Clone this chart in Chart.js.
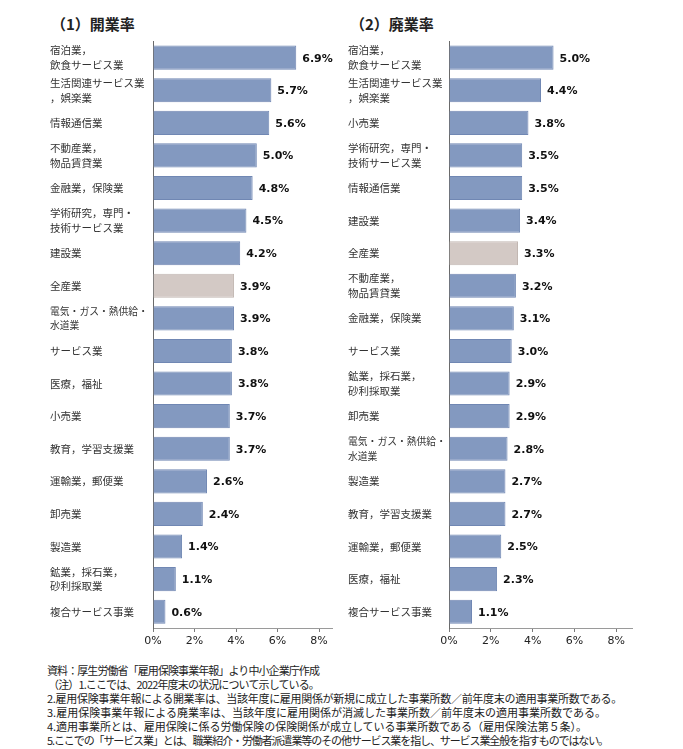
<!DOCTYPE html>
<html lang="ja">
<head>
<meta charset="utf-8">
<script src="https://cdn.jsdelivr.net/npm/chart.js@4.4.1/dist/chart.umd.min.js"></script>
<style>
  html, body { margin: 0; padding: 0; background: #fff; width: 683px; height: 749px; overflow: hidden; }
  body { position: relative; font-family: "Noto Sans CJK JP", sans-serif; color: #222; }
  .title { position: absolute; top: 14px; font-size: 15px; font-weight: bold; line-height: 20px; color: #222; }
  .box { position: absolute; top: 30px; height: 622px; }
  .notes { position: absolute; left: 47px; top: 663px; font-size: 11px; line-height: 14px; color: #222; white-space: nowrap; }
  .notes span { display: inline-block; }
</style>
</head>
<body>
<div class="title" style="left:51px;">（1）開業率</div>
<div class="title" style="left:350px;">（2）廃業率</div>
<div class="box" style="left:50px; width:283px;"><canvas id="c1"></canvas></div>
<div class="box" style="left:348px; width:285px;"><canvas id="c2"></canvas></div>
<div class="notes" id="notes">
<span data-w="272">資料：厚生労働省「雇用保険事業年報」より中小企業庁作成</span><br>
<span data-w="271" style="margin-left:1px">（注）1.ここでは、2022年度末の状況について示している。</span><br>
<span data-w="575">2.雇用保険事業年報による開業率は、当該年度に雇用関係が新規に成立した事業所数／前年度末の適用事業所数である。</span><br>
<span data-w="559">3.雇用保険事業年報による廃業率は、当該年度に雇用関係が消滅した事業所数／前年度末の適用事業所数である。</span><br>
<span data-w="540">4.適用事業所とは、雇用保険に係る労働保険の保険関係が成立している事業所数である（雇用保険法第５条）。</span><br>
<span data-w="561">5.ここでの「サービス業」とは、職業紹介・労働者派遣業等のその他サービス業を指し、サービス業全般を指すものではない。</span>
</div>
<script>
// ---- Data ----
const openingCategories = [
  ['宿泊業，','飲食サービス業'],
  ['生活関連サービス業','，娯楽業'],
  '情報通信業',
  ['不動産業，','物品賃貸業'],
  '金融業，保険業',
  ['学術研究，専門・','技術サービス業'],
  '建設業',
  '全産業',
  ['電気・ガス・熱供給・','水道業'],
  'サービス業',
  '医療，福祉',
  '小売業',
  '教育，学習支援業',
  '運輸業，郵便業',
  '卸売業',
  '製造業',
  ['鉱業，採石業，','砂利採取業'],
  '複合サービス事業'
];
const openingRates = [6.9, 5.7, 5.6, 5.0, 4.8, 4.5, 4.2, 3.9, 3.9, 3.8, 3.8, 3.7, 3.7, 2.6, 2.4, 1.4, 1.1, 0.6];

const closingCategories = [
  ['宿泊業，','飲食サービス業'],
  ['生活関連サービス業','，娯楽業'],
  '小売業',
  ['学術研究，専門・','技術サービス業'],
  '情報通信業',
  '建設業',
  '全産業',
  ['不動産業，','物品賃貸業'],
  '金融業，保険業',
  'サービス業',
  ['鉱業，採石業，','砂利採取業'],
  '卸売業',
  ['電気・ガス・熱供給・','水道業'],
  '製造業',
  '教育，学習支援業',
  '運輸業，郵便業',
  '医療，福祉',
  '複合サービス事業'
];
const closingRates = [5.0, 4.4, 3.8, 3.5, 3.5, 3.4, 3.3, 3.2, 3.1, 3.0, 2.9, 2.9, 2.8, 2.7, 2.7, 2.5, 2.3, 1.1];

const xTickValues = [0, 2, 4, 6, 8];
const highlightCategory = '全産業';

// ---- fit note lines to reference widths ----
document.querySelectorAll('#notes span').forEach(sp => {
  const target = parseFloat(sp.dataset.w);
  const n = sp.textContent.length;
  const w = sp.getBoundingClientRect().width;
  sp.style.letterSpacing = ((target - w) / n).toFixed(3) + 'px';
});

// ---- Styles ----
const BAR_FILL = '#8399c0';
const BAR_EDGE = '#7087b3';
const HL_FILL = '#d3c9c5';
const HL_EDGE = '#c2b7b2';

const valueLabels = {
  id: 'valueLabels',
  afterDatasetsDraw(chart) {
    const ctx = chart.ctx;
    const ds = chart.data.datasets[0];
    const meta = chart.getDatasetMeta(0);
    ctx.save();
    ctx.font = 'bold 11px "DejaVu Sans", Verdana, sans-serif';
    ctx.fillStyle = '#111';
    ctx.textAlign = 'left';
    ctx.textBaseline = 'middle';
    meta.data.forEach((bar, i) => {
      ctx.fillText(ds.data[i].toFixed(1) + '%', bar.x + 6, bar.y + 1);
    });
    ctx.restore();
  }
};

function labelText(c) { return typeof c === 'string' ? c : c.join(''); }

function makeChart(id, cats, vals, xmax, yWidth) {
  const isHL = c => labelText(c) === highlightCategory;
  new Chart(document.getElementById(id), {
    type: 'bar',
    data: {
      labels: cats,
      datasets: [{
        data: vals,
        backgroundColor: cats.map(c => isHL(c) ? HL_FILL : BAR_FILL),
        borderColor: cats.map(c => isHL(c) ? HL_EDGE : BAR_EDGE),
        borderWidth: 1,
        borderSkipped: 'left',
        categoryPercentage: 1,
        barPercentage: 0.74
      }]
    },
    options: {
      indexAxis: 'y',
      responsive: true,
      maintainAspectRatio: false,
      animation: false,
      layout: { padding: { top: 11, left: 0, right: 0, bottom: 0 } },
      plugins: { legend: { display: false }, tooltip: { enabled: false } },
      scales: {
        x: {
          min: 0,
          max: xmax,
          afterBuildTicks(scale) { scale.ticks = xTickValues.map(v => ({ value: v })); },
          afterFit(scale) { scale.height = 24; },
          grid: { drawOnChartArea: false, drawTicks: true, tickLength: 4, color: '#7a7a7a', lineWidth: 1 },
          border: { display: true, color: '#9a9a9a', width: 1 },
          ticks: {
            padding: 3,
            color: '#222',
            font: { family: '"DejaVu Sans", Verdana, sans-serif', size: 11 },
            callback: v => v + '%'
          }
        },
        y: {
          afterFit(scale) { scale.width = yWidth; },
          grid: { display: false },
          border: { display: true, color: '#6a6a6a', width: 1 },
          ticks: {
            crossAlign: 'far',
            padding: 4,
            color: '#333',
            autoSkip: false,
            font: (ctx) => {
              const lbl = cats[ctx.index];
              const long = Array.isArray(lbl) && lbl[0].length >= 10;
              return { family: '"Noto Sans CJK JP", sans-serif', size: long ? 9.8 : 10.5, lineHeight: long ? 1.5 : 1.4 };
            }
          }
        }
      }
    },
    plugins: [valueLabels]
  });
}

makeChart('c1', openingCategories, openingRates, 8.67, 103);
makeChart('c2', closingCategories, closingRates, 8.8, 101);
</script>
</body>
</html>
